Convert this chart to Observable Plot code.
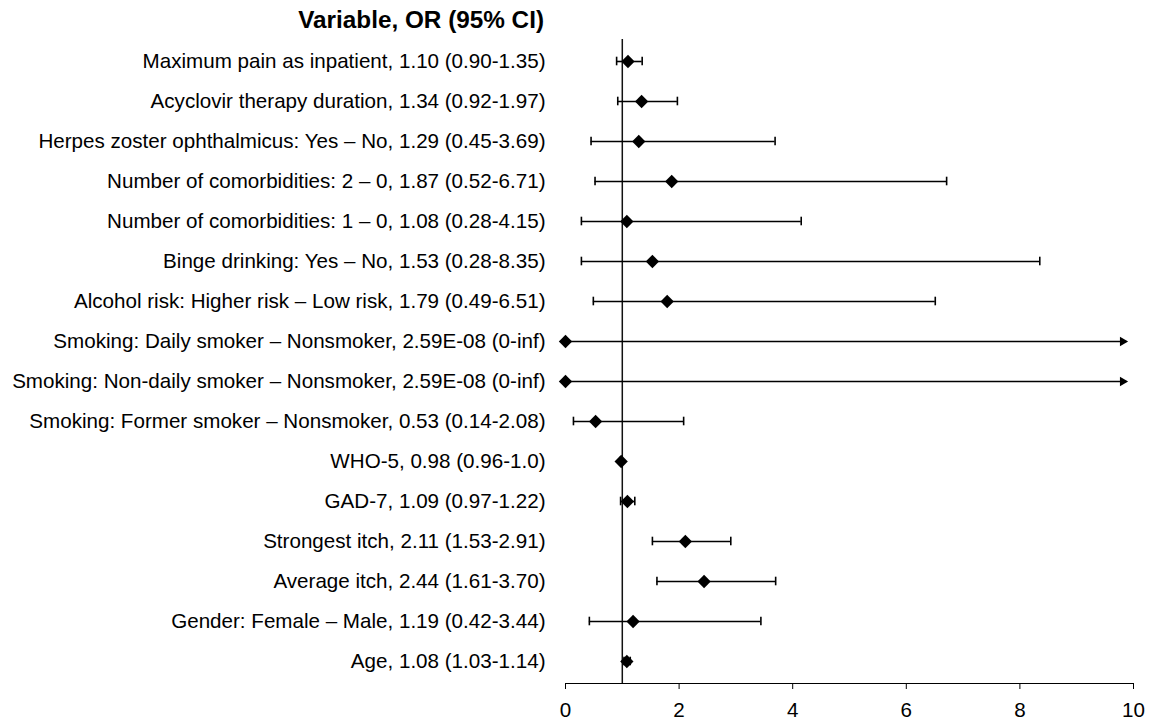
<!DOCTYPE html>
<html>
<head>
<meta charset="utf-8">
<script src="https://cdn.jsdelivr.net/npm/d3@7"></script>
<script src="https://cdn.jsdelivr.net/npm/@observablehq/plot@0.6"></script>
<style>
  body { margin: 0; background: #fff; font-family: "Liberation Sans", Arial, sans-serif; }
  #title { position: relative; width: 544px; height: 39px; font-weight: bold; font-size: 24.3px; color: #000; }
  #title span { position: absolute; right: 0; top: 6px; line-height: 28px; white-space: nowrap; }
</style>
</head>
<body>
<div id="title"><span>Variable, OR (95% CI)</span></div>
<div id="chart"></div>
<script>
const labels = [
  "Maximum pain as inpatient, 1.10 (0.90-1.35)",
  "Acyclovir therapy duration, 1.34 (0.92-1.97)",
  "Herpes zoster ophthalmicus: Yes – No, 1.29 (0.45-3.69)",
  "Number of comorbidities: 2 – 0, 1.87 (0.52-6.71)",
  "Number of comorbidities: 1 – 0, 1.08 (0.28-4.15)",
  "Binge drinking: Yes – No, 1.53 (0.28-8.35)",
  "Alcohol risk: Higher risk – Low risk, 1.79 (0.49-6.51)",
  "Smoking: Daily smoker – Nonsmoker, 2.59E-08 (0-inf)",
  "Smoking: Non-daily smoker – Nonsmoker, 2.59E-08 (0-inf)",
  "Smoking: Former smoker – Nonsmoker, 0.53 (0.14-2.08)",
  "WHO-5, 0.98 (0.96-1.0)",
  "GAD-7, 1.09 (0.97-1.22)",
  "Strongest itch, 2.11 (1.53-2.91)",
  "Average itch, 2.44 (1.61-3.70)",
  "Gender: Female – Male, 1.19 (0.42-3.44)",
  "Age, 1.08 (1.03-1.14)"
];
const oddsRatio = [1.10, 1.34, 1.29, 1.87, 1.08, 1.53, 1.79, 2.59e-8, 2.59e-8, 0.53, 0.98, 1.09, 2.11, 2.44, 1.19, 1.08];
const lowerCI   = [0.90, 0.92, 0.45, 0.52, 0.28, 0.28, 0.49, 0, 0, 0.14, 0.96, 0.97, 1.53, 1.61, 0.42, 1.03];
const upperCI   = [1.35, 1.97, 3.69, 6.71, 4.15, 8.35, 6.51, Infinity, Infinity, 2.08, 1.0, 1.22, 2.91, 3.70, 3.44, 1.14];
const xTicks = [0, 2, 4, 6, 8, 10];
const openEnd = 9.88; // where an infinite upper CI is cut off with an arrow

const data = labels.map((label, i) => ({label, or: oddsRatio[i], lo: lowerCI[i], hi: upperCI[i]}));
const finite = data.filter(d => isFinite(d.hi));
const open = data.filter(d => !isFinite(d.hi)).map(d => ({...d, end: openEnd}));

const chart = Plot.plot({
  width: 1149,
  height: 681,
  marginLeft: 565,
  marginRight: 16,
  marginTop: 0,
  marginBottom: 37,
  style: {fontFamily: "'Liberation Sans', Arial, sans-serif", fontSize: "20.6px", color: "#000", background: "#fff"},
  x: {domain: [0, 10], ticks: xTicks, tickFormat: d => String(d), tickSize: 6, tickPadding: 13, label: null, line: true},
  y: {type: "band", domain: labels, padding: 0, tickSize: 0, tickPadding: 20, label: null},
  marks: [
    Plot.ruleX([1], {stroke: "#111", strokeWidth: 1.5}),
    Plot.ruleY(finite, {x1: "lo", x2: "hi", y: "label", stroke: "#000", strokeWidth: 1.6}),
    Plot.tickX(finite, {x: "lo", y: "label", stroke: "#000", strokeWidth: 1.6, insetTop: 15.7, insetBottom: 15.7}),
    Plot.tickX(finite, {x: "hi", y: "label", stroke: "#000", strokeWidth: 1.6, insetTop: 15.7, insetBottom: 15.7}),
    Plot.ruleY(open, {x1: "lo", x2: "end", y: "label", stroke: "#000", strokeWidth: 1.6}),
    Plot.dot(open, {x: "end", y: "label", symbol: "triangle2", rotate: 90, fill: "#000", r: 4.5, dx: -4}),
    Plot.dot(data, {x: "or", y: "label", symbol: "diamond2", fill: "#000", r: 6})
  ]
});
document.getElementById("chart").appendChild(chart);
</script>
</body>
</html>
